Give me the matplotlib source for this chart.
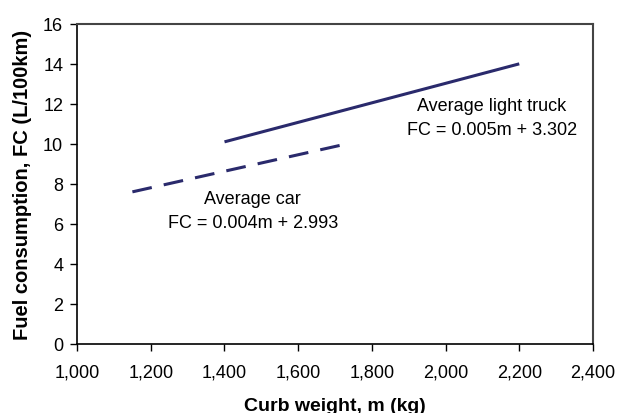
import matplotlib.pyplot as plt
from matplotlib.ticker import FuncFormatter

plt.rcParams["font.family"] = ["Liberation Sans", "DejaVu Sans"]

truck_m = [1400, 2200]
truck_fc = [10.1, 14.0]
car_m = [1150, 1720]
car_fc = [7.6, 9.95]

line_color = "#2a2a6c"

fig = plt.figure(figsize=(6.17, 4.14), dpi=100)
ax = fig.add_axes([0.125, 0.167, 0.836, 0.773])

ax.plot(truck_m, truck_fc, color=line_color, lw=2.2, solid_capstyle="butt")
ax.plot(car_m, car_fc, color=line_color, lw=2.2, dashes=(6.5, 4), dash_capstyle="butt")

ax.text(1477, 7.25, "Average car", ha="center", va="center", fontsize=13)
ax.text(1477, 6.05, "FC = 0.004m + 2.993", ha="center", va="center", fontsize=13)
ax.text(2126, 11.9, "Average light truck", ha="center", va="center", fontsize=13)
ax.text(2126, 10.7, "FC = 0.005m + 3.302", ha="center", va="center", fontsize=13)

ax.set_xlim(1000, 2400)
ax.set_ylim(0, 16)
ax.set_xticks(range(1000, 2401, 200))
ax.set_yticks(range(0, 17, 2))
ax.xaxis.set_major_formatter(FuncFormatter(lambda v, p: f"{int(v):,}"))
ax.tick_params(labelsize=13, length=5, width=1, colors="black")
ax.tick_params(axis="x", pad=9)
ax.tick_params(axis="y", pad=5)

for side in ["left", "bottom"]:
    ax.spines[side].set_color("black")
    ax.spines[side].set_linewidth(1.2)
for side in ["top", "right"]:
    ax.spines[side].set_color("#444444")
    ax.spines[side].set_linewidth(1.5)

ax.set_xlabel("Curb weight, m (kg)", fontsize=14, fontweight="bold", labelpad=12)
ax.set_ylabel("Fuel consumption, FC (L/100km)", fontsize=14.5, fontweight="bold", labelpad=8)

fig.savefig("out.png", dpi=100)
